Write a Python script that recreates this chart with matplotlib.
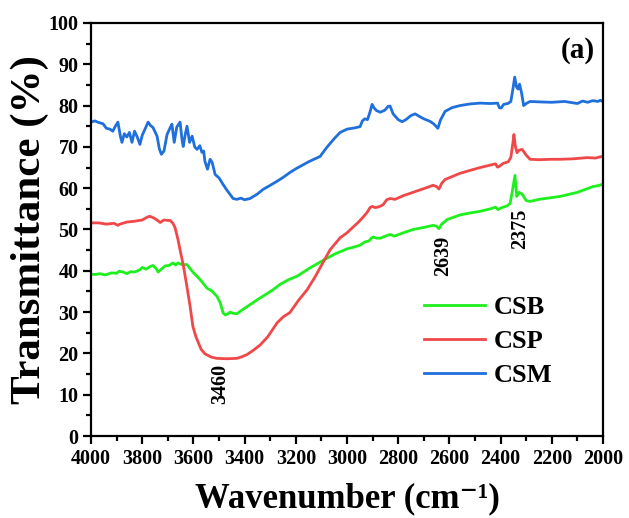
import matplotlib
matplotlib.use("Agg")
import matplotlib.pyplot as plt
from matplotlib.ticker import MultipleLocator

plt.rcParams['font.family'] = ['Liberation Serif', 'DejaVu Serif']
plt.rcParams['font.weight'] = 'bold'

# FTIR spectra: wavenumber (cm^-1) vs transmittance (%)
csm_wn = [4000, 3985, 3970, 3953, 3940, 3926, 3915, 3905, 3895, 3885, 3879, 3870, 3860, 3850,
          3840, 3830, 3820, 3809, 3800, 3789, 3777, 3768, 3758, 3742, 3733, 3725, 3715, 3703,
          3692, 3684, 3675, 3665, 3652, 3645, 3640, 3632, 3625, 3615, 3605, 3595, 3586, 3575,
          3567, 3560, 3555, 3545, 3535, 3527, 3515, 3500, 3484, 3470, 3457, 3445, 3430, 3415,
          3400, 3379, 3350, 3328, 3300, 3273, 3250, 3223, 3200, 3150, 3105, 3080, 3050, 3027,
          3000, 2970, 2949, 2940, 2930, 2920, 2910, 2902, 2895, 2885, 2870, 2852, 2840, 2832,
          2820, 2800, 2785, 2770, 2750, 2734, 2715, 2700, 2676, 2660, 2645, 2635, 2617, 2590,
          2559, 2520, 2480, 2440, 2412, 2405, 2398, 2388, 2372, 2360, 2352, 2345, 2338, 2332,
          2326, 2318, 2310, 2300, 2285, 2250, 2200, 2150, 2120, 2100, 2080, 2060, 2040, 2020,
          2010, 2000]
csm_t = [76.0, 76.3, 75.9, 75.6, 74.5, 74.3, 73.8, 75.0, 76.0, 72.5, 71.1, 73.2, 72.4, 73.5,
         71.1, 73.8, 72.5, 70.6, 72.8, 74.3, 76.0, 75.2, 74.7, 72.6, 69.5, 68.2, 69.0, 73.0,
         74.5, 75.5, 71.1, 74.8, 76.0, 72.0, 70.1, 73.0, 75.0, 71.1, 72.6, 70.0, 69.4, 70.3,
         68.7, 69.0, 66.5, 64.6, 67.0, 66.3, 63.3, 62.5, 60.9, 59.6, 58.5, 57.5, 57.3, 57.6,
         57.2, 57.5, 58.6, 59.7, 60.7, 61.7, 62.6, 63.8, 64.7, 66.4, 67.7, 69.8, 72.0, 73.5,
         74.3, 74.6, 74.9, 76.3, 76.8, 76.6, 78.5, 80.3, 79.5, 78.8, 78.4, 78.9, 79.8, 79.9,
         78.0, 76.6, 76.1, 76.6, 77.6, 78.0, 77.3, 76.8, 76.2, 75.5, 74.5, 76.5, 78.6, 79.5,
         80.0, 80.4, 80.6, 80.5, 80.6, 79.5, 79.4, 80.3, 80.5, 81.0, 84.0, 86.9, 84.5, 84.0,
         85.2, 83.0, 80.0, 80.5, 81.0, 80.9, 80.8, 81.0, 80.7, 80.5, 81.1, 80.8, 81.2, 81.0,
         81.3, 80.9]

csp_wn = [4000, 3970, 3940, 3910, 3895, 3887, 3860, 3830, 3800, 3780, 3770, 3755, 3740, 3730,
          3715, 3700, 3691, 3680, 3672, 3660, 3652, 3640, 3630, 3621, 3613, 3602, 3590, 3582,
          3570, 3555, 3530, 3508, 3470, 3430, 3410, 3391, 3365, 3340, 3310, 3273, 3250, 3223,
          3190, 3156, 3125, 3094, 3066, 3027, 3000, 2957, 2940, 2922, 2910, 2902, 2890, 2875,
          2859, 2845, 2832, 2812, 2780, 2742, 2700, 2664, 2650, 2641, 2630, 2617, 2590, 2559,
          2520, 2480, 2440, 2420, 2412, 2405, 2390, 2370, 2360, 2352, 2348, 2342, 2336, 2328,
          2316, 2300, 2285, 2250, 2200, 2168, 2120, 2062, 2030, 2010, 2000]
csp_t = [51.6, 51.6, 51.3, 51.5, 51.0, 51.3, 51.8, 52.0, 52.3, 53.0, 53.2, 52.8, 52.2, 51.7,
         52.3, 52.2, 52.2, 51.5, 50.5, 47.5, 45.0, 41.5, 37.9, 34.5, 31.4, 26.5, 24.0, 22.8,
         21.0, 19.9, 19.1, 18.8, 18.7, 18.8, 19.2, 19.7, 20.8, 22.0, 24.0, 27.4, 28.8, 29.9,
         32.8, 35.4, 38.5, 42.0, 45.1, 48.0, 49.2, 51.7, 52.8, 54.1, 55.3, 55.6, 55.3, 55.5,
         56.0, 57.2, 57.5, 57.3, 58.2, 59.0, 59.9, 60.7, 60.4, 59.8, 61.2, 62.1, 62.8, 63.6,
         64.3, 65.0, 65.6, 65.9, 65.1, 65.3, 66.0, 66.4, 67.5, 71.0, 73.0, 70.0, 68.6, 69.2,
         69.4, 68.0, 67.0, 66.9, 67.0, 67.0, 67.1, 67.4, 67.3, 67.6, 67.7]

csb_wn = [4000, 3985, 3965, 3945, 3920, 3900, 3890, 3875, 3860, 3845, 3830, 3810, 3800, 3785,
          3770, 3758, 3745, 3738, 3725, 3710, 3695, 3680, 3670, 3660, 3645, 3625, 3610, 3598,
          3586, 3570, 3560, 3547, 3530, 3520, 3508, 3495, 3484, 3475, 3465, 3457, 3445, 3430,
          3410, 3379, 3340, 3289, 3262, 3230, 3195, 3150, 3094, 3050, 3000, 2970, 2949, 2930,
          2915, 2905, 2898, 2885, 2870, 2850, 2832, 2815, 2780, 2742, 2700, 2664, 2650, 2641,
          2630, 2609, 2560, 2520, 2480, 2440, 2420, 2410, 2400, 2375, 2363, 2355, 2344, 2337,
          2328, 2316, 2300, 2285, 2250, 2168, 2100, 2039, 2020, 2000]
csb_t = [39.2, 39.1, 39.3, 39.0, 39.5, 39.4, 39.9, 39.7, 39.3, 39.8, 39.7, 40.2, 40.8, 40.4,
         41.0, 41.3, 40.5, 39.7, 40.4, 41.2, 41.3, 41.9, 41.4, 41.9, 41.5, 41.5, 40.3, 39.4,
         38.7, 37.6, 36.8, 35.8, 35.2, 34.6, 33.8, 32.2, 29.8, 29.3, 29.6, 30.0, 29.7, 29.6,
         30.5, 31.8, 33.4, 35.4, 36.7, 37.8, 38.7, 40.5, 42.5, 44.0, 45.3, 45.8, 46.2, 47.0,
         47.2, 47.9, 48.2, 47.9, 47.9, 48.4, 48.8, 48.4, 49.2, 50.0, 50.5, 51.0, 50.8, 50.2,
         51.3, 52.4, 53.5, 54.0, 54.4, 55.0, 55.4, 54.8, 55.2, 55.7, 56.3, 59.0, 63.1, 58.0,
         59.0, 58.6, 57.0, 56.8, 57.3, 58.0, 59.0, 60.4, 60.6, 61.0]

series_names = ['CSB', 'CSP', 'CSM']
series_colors = ['#1ef01e', '#f04848', '#1f6fdc']

peak_labels = ['3460', '2639', '2375']
peak_label_x = [3496, 2625, 2324]
peak_label_y = [12.6, 43.7, 50.2]

x_ticks = [4000, 3800, 3600, 3400, 3200, 3000, 2800, 2600, 2400, 2200, 2000]
y_ticks = [0, 10, 20, 30, 40, 50, 60, 70, 80, 90, 100]

fig = plt.figure(figsize=(6.29, 5.18), dpi=100)
ax = fig.add_axes([0.1447, 0.1583, 0.8140, 0.7973])

for wn, t, name, color in zip([csb_wn, csp_wn, csm_wn], [csb_t, csp_t, csm_t],
                              series_names, series_colors):
    ax.plot(wn, t, color=color, lw=2.0, label=name, solid_joinstyle='round')

ax.set_xlim(4000, 2000)
ax.set_ylim(0, 100)
ax.set_xticks(x_ticks)
ax.set_yticks(y_ticks)
ax.xaxis.set_minor_locator(MultipleLocator(100))
ax.yaxis.set_minor_locator(MultipleLocator(5))
ax.tick_params(axis='both', which='major', direction='out', length=6, width=1.6,
               labelsize=14.5, pad=3)
ax.tick_params(axis='both', which='minor', direction='out', length=3.5, width=1.6)
ax.tick_params(top=False, right=False, which='both')
for lab in ax.get_xticklabels() + ax.get_yticklabels():
    lab.set_fontweight('bold')
for sp in ax.spines.values():
    sp.set_linewidth(1.6)

ax.set_xlabel('Wavenumber (cm\u207b\u00b9)', fontsize=25, fontweight='bold', labelpad=10)
ax.set_ylabel('Transmittance (%)', fontsize=31, fontweight='bold')
ax.yaxis.set_label_coords(-0.083, 0.5)

for txt, x, y in zip(peak_labels, peak_label_x, peak_label_y):
    ax.text(x, y, txt, rotation=90, ha='center', va='center', fontsize=14.5, fontweight='bold')

ax.text(0.985, 0.965, '(a)', transform=ax.transAxes, ha='right', va='top',
        fontsize=21, fontweight='bold')

leg = ax.legend(loc='upper left', bbox_to_anchor=(0.63, 0.365), frameon=False,
                fontsize=19, handlelength=2.3, handletextpad=0.35, labelspacing=0.4,
                borderaxespad=0)
for t in leg.get_texts():
    t.set_fontweight('bold')

fig.savefig('out.png', dpi=100)
